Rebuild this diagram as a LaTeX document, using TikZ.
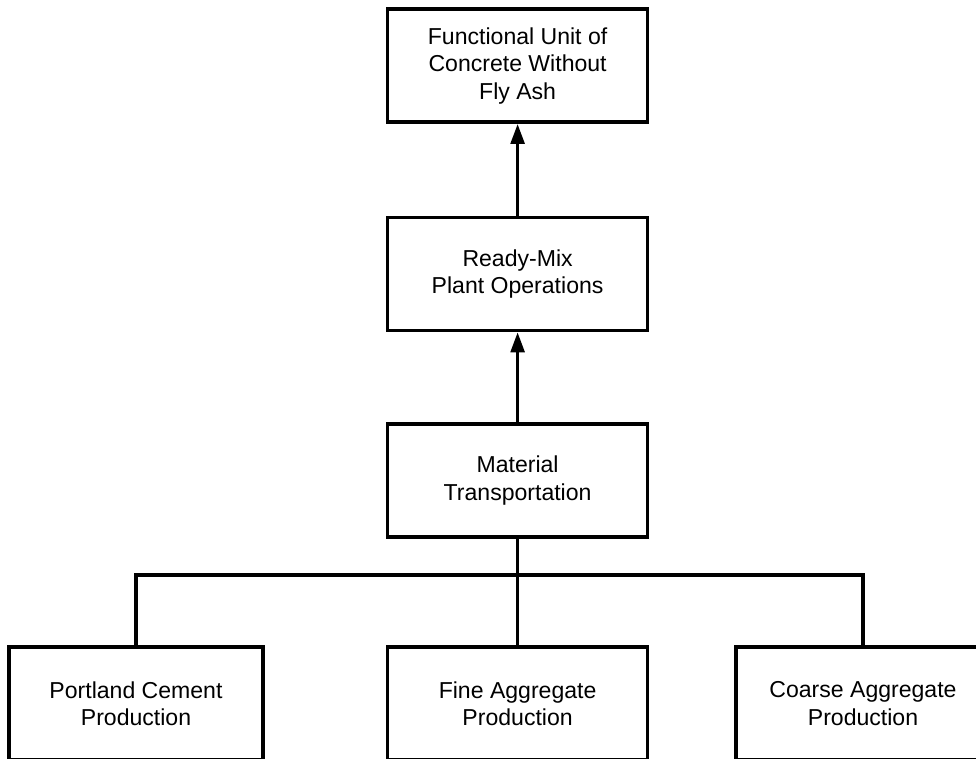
\documentclass[tikz,border=0pt]{standalone}
\usepackage{fontspec}
\setmainfont{Liberation Sans}
\usetikzlibrary{arrows.meta}
\begin{document}
\begin{tikzpicture}[
    stage/.style={draw,line width=2.5pt,minimum width=6.5cm,minimum height=2.825cm,
      align=center,inner sep=0pt,font=\fontsize{16.4}{19.6}\selectfont},
    source/.style={stage,minimum width=6.35cm},
    flow/.style={line width=2.5pt,-{Triangle[length=0.5cm,width=0.34cm]}},
    link/.style={line width=2.5pt}]
            \useasboundingbox (0,0) rectangle (24.4,-18.975);
            \node[stage] (unit) at (12.94,-1.64){Functional Unit of\\Concrete Without\\Fly Ash};
            \node[stage] (plant) at (12.94,-6.85){Ready-Mix\\Plant Operations};
            \node[stage] (transport) at (12.94,-12.01){Material\\Transportation};
            \node[source] (cement) at (3.4,-17.59){Portland Cement\\Production};
            \node[stage] (fine) at (12.94,-17.59){Fine Aggregate\\Production};
            \node[source] (coarse) at (21.575,-17.59){Coarse Aggregate\\Production};
            \coordinate (bar) at (12.94,-14.375);
            \draw[flow] (plant.north)--(unit.south);
            \draw[flow] (transport.north)--(plant.south);
            \draw[link] (transport.south)--(bar);
            \draw[link] (cement.north) |- (bar) -| (coarse.north);
            \draw[link] (bar)--(fine.north);
        \end{tikzpicture}
\end{document}
